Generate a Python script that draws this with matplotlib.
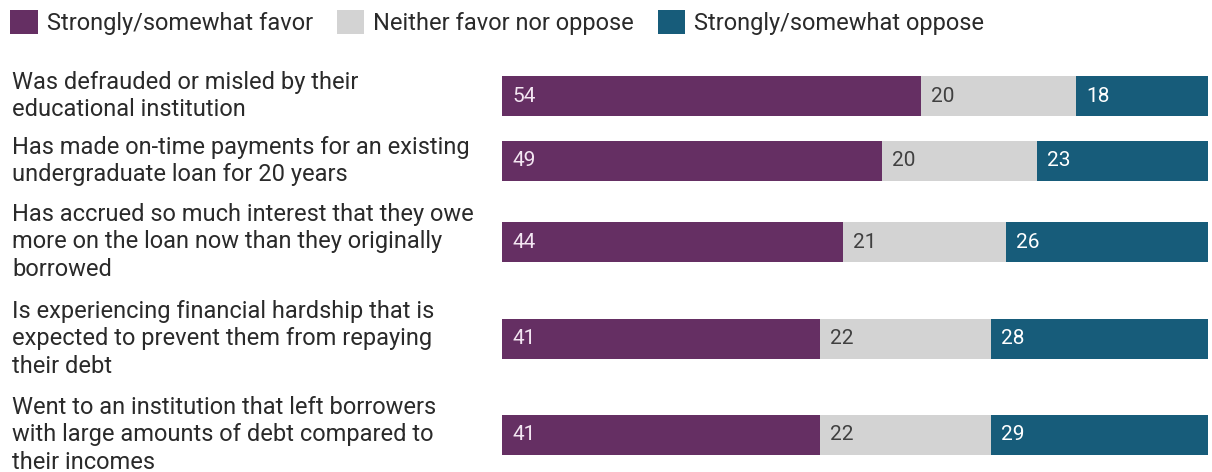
import matplotlib.pyplot as plt

plt.rcParams['font.family'] = ['Roboto', 'DejaVu Sans']

questions = [
    'Was defrauded or misled by their\neducational institution',
    'Has made on-time payments for an existing\nundergraduate loan for 20 years',
    'Has accrued so much interest that they owe\nmore on the loan now than they originally\nborrowed',
    'Is experiencing financial hardship that is\nexpected to prevent them from repaying\ntheir debt',
    'Went to an institution that left borrowers\nwith large amounts of debt compared to\ntheir incomes',
]
series_names = ['Strongly/somewhat favor', 'Neither favor nor oppose',
                'Strongly/somewhat oppose']
favor = [54, 49, 44, 41, 41]
neither = [20, 20, 21, 22, 22]
oppose = [18, 23, 26, 28, 29]

colors = ['#652f63', '#d3d3d3', '#175c7a']
text_colors = ['#f3e6f2', '#404040', '#ffffff']

# layout (pixel rows, top down)
W, H = 1212, 472
row_y = [96, 161, 242, 339, 435]
bar_h = 40

fig = plt.figure(figsize=(W / 100, H / 100), dpi=100)
ax = fig.add_axes([502 / W, 0, (1208 - 502) / W, 1])
ax.set_ylim(H, 0)
ax.set_xlim(0, 91)
ax.axis('off')

left = [0] * len(favor)
handles = []
for vals, name, c, tc in zip([favor, neither, oppose], series_names, colors, text_colors):
    bars = ax.barh(row_y, vals, left=left, height=bar_h, color=c, label=name)
    handles.append(bars)
    for y, v, l in zip(row_y, vals, left):
        ax.text(l + 1.3, y, str(v), color=tc, fontsize=15, va='center', ha='left')
    left = [a + b for a, b in zip(left, vals)]

for y, q in zip(row_y, questions):
    fig.text(12 / W, 1 - y / H, q, fontsize=17, color='#2a2a2a', va='center',
             ha='left', linespacing=1.24)

fig.legend(handles=handles, labels=series_names, loc='upper left',
           bbox_to_anchor=(-0.006, 1.016), ncol=3, frameon=False, fontsize=17,
           handlelength=1.15, handleheight=1.15, handletextpad=0.4,
           columnspacing=1.0, borderaxespad=0.35, labelcolor='#2a2a2a')

fig.savefig('out.png', dpi=100)
